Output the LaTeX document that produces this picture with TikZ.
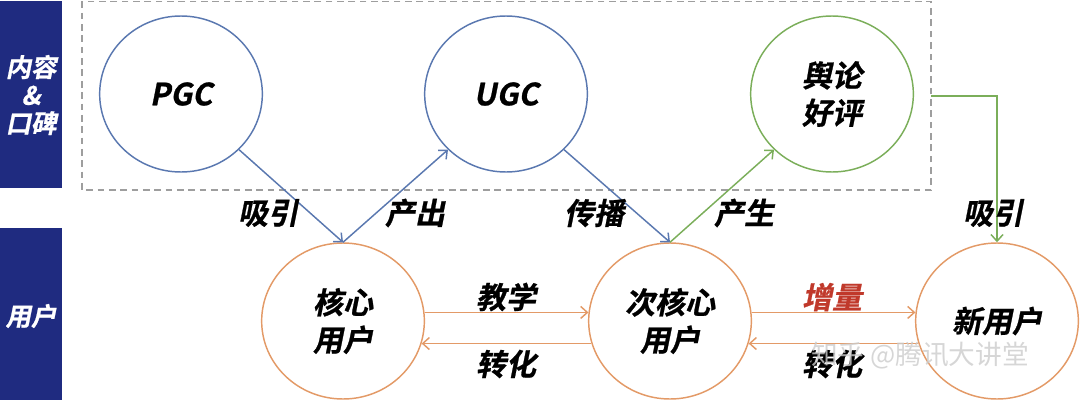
\documentclass[tikz,border=0pt]{standalone}
\usepackage{fontspec}
\usepackage{xcolor}
\newfontfamily\cjkbold[FakeSlant=0.2,FakeBold=0.8]{Noto Sans CJK SC Bold}
\newfontfamily\cjkplain{Noto Sans CJK SC}
\usetikzlibrary{arrows.meta,positioning,shapes.geometric}
\definecolor{BarNavy}{HTML}{1F2B80}
\definecolor{LinkBlue}{HTML}{5A78B0}
\definecolor{LinkGreen}{HTML}{7BAE5A}
\definecolor{LinkOrange}{HTML}{E39A67}
\definecolor{BoostRed}{HTML}{C0392B}
\definecolor{BoxGray}{gray}{0.62}

\tikzset{
  bubble/.style={ellipse,draw,line width=1.1pt,minimum width=122pt,
    minimum height=117pt,inner sep=0pt,align=center,
    font=\cjkbold\fontsize{22.5}{28}\selectfont},
  tag/.style={font=\cjkbold\fontsize{22.5}{26}\selectfont},
  bartext/.style={text=white,align=center,font=\cjkbold\fontsize{19}{25}\selectfont},
  link/.style={line width=1.1pt,-{Straight Barb[length=5pt,width=9pt]}}
}

\begin{document}
\begin{tikzpicture}[x=0.75pt,y=-0.75pt]
  \useasboundingbox (0,0) rectangle (1080,403);
  % side bars
  \fill[BarNavy] (0,1) rectangle (62,188);
  \fill[BarNavy] (0,228) rectangle (62,400);
  \node[bartext] (barTop) at (31,95) {内容\\[-4pt]\&\\[-4pt]口碑};
  \node[bartext] (barUser) at (31,316) {用户};
  % content area
  \draw[BoxGray,dashed,line width=0.9pt,dash pattern=on 5pt off 3.5pt]
    (82,1.5) rectangle (931,190);
  \node[bubble,draw=LinkBlue,font=\cjkbold\fontsize{23}{28}\selectfont]
    (pgc) at (181,94) {PGC};
  \node[bubble,draw=LinkBlue,font=\cjkbold\fontsize{23}{28}\selectfont]
    (ugc) at (506,94) {UGC};
  \node[bubble,draw=LinkGreen] (praise) at (832,94) {舆论\\好评};
  % users
  \node[bubble,draw=LinkOrange] (core) at (343,321) {核心\\用户};
  \node[bubble,draw=LinkOrange] (subcore) at (670,321) {次核心\\用户};
  \node[bubble,draw=LinkOrange] (newuser) at (997,321) {新用户};
  % links
  \draw[link,LinkBlue] (pgc.south east) -- (core.north);
  \draw[link,LinkBlue] (core.north) -- (ugc.south west);
  \draw[link,LinkBlue] (ugc.south east) -- (subcore.north);
  \draw[link,LinkGreen] (subcore.north) -- (praise.south west);
  \coordinate (exit) at (931,96);
  \draw[link,LinkGreen] (exit) -| (newuser.north);
  \draw[link,LinkOrange] (core.6) -- (subcore.174);
  \draw[link,LinkOrange] (subcore.-164) -- (core.-16);
  \draw[link,LinkOrange] (subcore.6) -- (newuser.174);
  \draw[link,LinkOrange] (newuser.-164) -- (subcore.-16);
  % labels
  \node[tag] (lblAttract) at (268,213) {吸引};
  \node[tag] (lblOutput) at (415,213) {产出};
  \node[tag] (lblSpread) at (594,213) {传播};
  \node[tag] (lblYield) at (744,213) {产生};
  \node[tag] (lblDraw) at (993,213) {吸引};
  \node[tag] (lblTeach) at (506,297) {教学};
  \node[tag] (lblConvA) at (506,364) {转化};
  \node[tag,text=BoostRed] (lblGain) at (832,297) {增量};
  \node[tag] (lblConvB) at (832,364) {转化};
  % watermark
  \node[font=\cjkplain\fontsize{20}{24}\selectfont,text=gray!40,opacity=0.8]
    (mark) at (920,356) {知乎 @腾讯大讲堂};
\end{tikzpicture}
\end{document}
